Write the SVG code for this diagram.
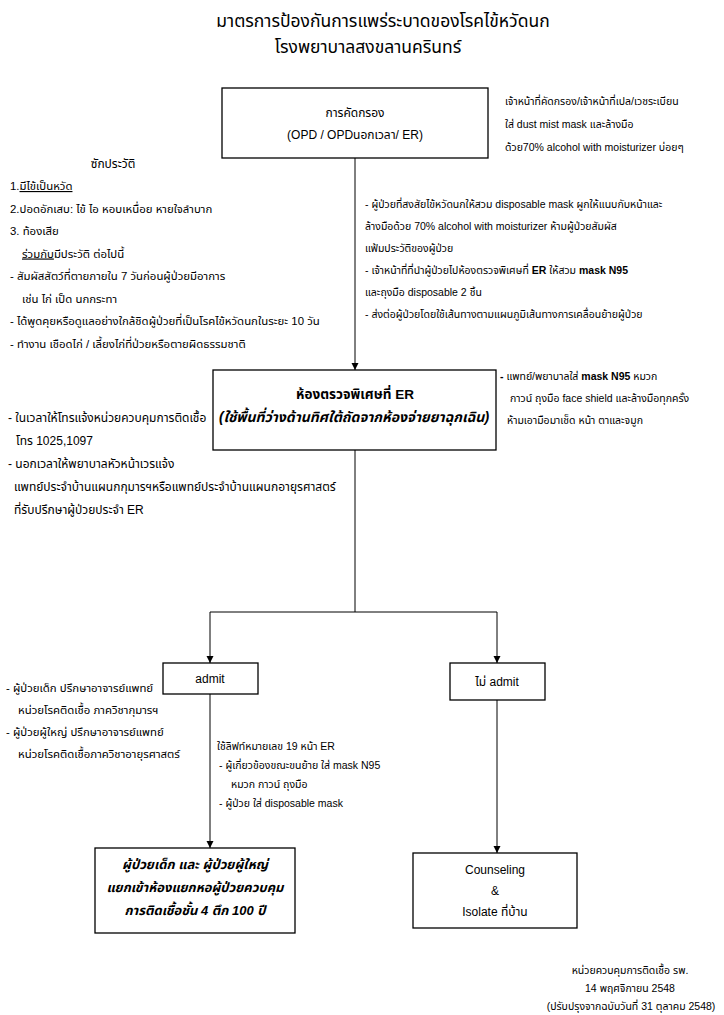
<svg xmlns="http://www.w3.org/2000/svg" width="724" height="1015" viewBox="0 0 724 1015">
<defs>
<style>
text{font-family:"Liberation Sans","Noto Sans Thai","Noto Sans",sans-serif;fill:#000;}
.t{font-size:17.5px;text-anchor:middle;}
.n{font-size:10.5px;}
.h{font-size:11.4px;}
.l{font-size:12px;}
.m{font-size:12px;text-anchor:middle;}
.b{font-size:13.5px;font-weight:bold;text-anchor:middle;}
.bi{font-size:14px;font-weight:bold;font-style:italic;text-anchor:middle;}
.bw{font-size:13px;font-weight:bold;font-style:italic;text-anchor:middle;}
.box{fill:#fff;stroke:#000;stroke-width:1.3;}
.ln{fill:none;stroke:#000;stroke-width:1;}
.u{text-decoration:underline;}
</style>
<marker id="ah" viewBox="0 0 10 10" refX="10" refY="5" markerWidth="7" markerHeight="8" markerUnits="userSpaceOnUse" orient="auto">
<path d="M0,0 L10,5 L0,10 z" fill="#000"/>
</marker>
</defs>
<rect width="724" height="1015" fill="#fff"/>

<g id="title">
<text class="t" x="383" y="27">มาตรการป้องกันการแพร่ระบาดของโรคไข้หวัดนก</text>
<text class="t" x="368" y="53">โรงพยาบาลสงขลานครินทร์</text>
</g>

<g id="connectors">
<line class="ln" x1="355" y1="158" x2="355" y2="370" marker-end="url(#ah)"/>
<polyline class="ln" points="355,450 355,612"/>
<polyline class="ln" points="210,612 497,612"/>
<line class="ln" x1="210" y1="612" x2="210" y2="663" marker-end="url(#ah)"/>
<line class="ln" x1="497" y1="612" x2="497" y2="663" marker-end="url(#ah)"/>
<line class="ln" x1="210" y1="694" x2="210" y2="848" marker-end="url(#ah)"/>
<line class="ln" x1="497" y1="700" x2="497" y2="853" marker-end="url(#ah)"/>
</g>

<g id="screening">
<rect class="box" x="222" y="88" width="266" height="70"/>
<text class="m" x="355" y="117">การคัดกรอง</text>
<text class="m" x="355" y="139">(OPD / OPDนอกเวลา/ ER)</text>
</g>

<g id="screening-note">
<text class="n" x="505" y="105">เจ้าหน้าที่คัดกรอง/เจ้าหน้าที่เปล/เวชระเบียน</text>
<text class="n" x="505" y="128">ใส่ dust mist mask และล้างมือ</text>
<text class="n" x="505" y="151">ด้วย70% alcohol with  moisturizer บ่อยๆ</text>
</g>

<g id="history">
<text class="m" x="113" y="168">ซักประวัติ</text>
<text class="h" x="10" y="190">1.<tspan class="u">มีไข้เป็นหวัด</tspan></text>
<text class="h" x="10" y="212.5">2.ปอดอักเสบ: ไข้ ไอ หอบเหนื่อย หายใจลำบาก</text>
<text class="h" x="10" y="235">3. ท้องเสีย</text>
<text class="h" x="22" y="257.5"><tspan class="u">ร่วมกับ</tspan>มีประวัติ ต่อไปนี้</text>
<text class="h" x="10" y="280">-  สัมผัสสัตว์ที่ตายภายใน 7 วันก่อนผู้ป่วยมีอาการ</text>
<text class="h" x="22" y="302.5">เช่น ไก่ เป็ด นกกระทา</text>
<text class="h" x="10" y="325">-  ได้พูดคุยหรือดูแลอย่างใกล้ชิดผู้ป่วยที่เป็นโรคไข้หวัดนกในระยะ 10 วัน</text>
<text class="h" x="10" y="347.5">-  ทำงาน เชือดไก่ / เลี้ยงไก่ที่ป่วยหรือตายผิดธรรมชาติ</text>
</g>

<g id="transfer-note">
<text class="n" x="365" y="208">- ผู้ป่วยที่สงสัยไข้หวัดนกให้สวม disposable mask ผูกให้แนบกับหน้าและ</text>
<text class="n" x="365" y="230">ล้างมือด้วย  70% alcohol with  moisturizer  ห้ามผู้ป่วยสัมผัส</text>
<text class="n" x="365" y="252">แฟ้มประวัติของผู้ป่วย</text>
<text class="n" x="365" y="274">- เจ้าหน้าที่ที่นำผู้ป่วยไปห้องตรวจพิเศษที่ <tspan font-weight="bold">ER</tspan> ให้สวม <tspan font-weight="bold">mask N95</tspan></text>
<text class="n" x="365" y="296">และถุงมือ  disposable 2 ชิ้น</text>
<text class="n" x="365" y="318">- ส่งต่อผู้ป่วยโดยใช้เส้นทางตามแผนภูมิเส้นทางการเคลื่อนย้ายผู้ป่วย</text>
</g>

<g id="er-room">
<rect class="box" x="213" y="370" width="283" height="80"/>
<text class="b" x="355" y="399">ห้องตรวจพิเศษที่ ER</text>
<text class="bi" x="354" y="422">(ใช้พื้นที่ว่างด้านทิศใต้ถัดจากห้องจ่ายยาฉุกเฉิน)</text>
</g>

<g id="er-staff-note">
<text class="n" x="500" y="380"><tspan font-weight="bold">- </tspan>แพทย์/พยาบาลใส่ <tspan font-weight="bold">mask N95</tspan> หมวก</text>
<text class="n" x="510" y="402" font-size="11">กาวน์  ถุงมือ face shield  และล้างมือทุกครั้ง</text>
<text class="n" x="507" y="424" font-size="11.5">ห้ามเอามือมาเช็ด หน้า  ตาและจมูก</text>
</g>

<g id="er-contact-note">
<text class="l" x="8" y="422">- ในเวลาให้โทรแจ้งหน่วยควบคุมการติดเชื้อ</text>
<text class="l" x="16" y="445">โทร 1025,1097</text>
<text class="l" x="8" y="468">- นอกเวลาให้พยาบาลหัวหน้าเวรแจ้ง</text>
<text class="l" x="14" y="491">แพทย์ประจำบ้านแผนกกุมารฯหรือแพทย์ประจำบ้านแผนกอายุรศาสตร์</text>
<text class="l" x="14" y="514">ที่รับปรึกษาผู้ป่วยประจำ ER</text>
</g>

<g id="admit">
<rect class="box" x="163" y="663" width="95" height="31"/>
<text class="m" x="210" y="683">admit</text>
</g>

<g id="not-admit">
<rect class="box" x="450" y="663" width="95" height="37"/>
<text class="m" x="497" y="686">ไม่ admit</text>
</g>

<g id="admit-consult-note">
<text class="h" x="6" y="692">- ผู้ป่วยเด็ก ปรึกษาอาจารย์แพทย์</text>
<text class="h" x="18" y="714">หน่วยโรคติดเชื้อ ภาควิชากุมารฯ</text>
<text class="h" x="6" y="736">- ผู้ป่วยผู้ใหญ่ ปรึกษาอาจารย์แพทย์</text>
<text class="h" x="18" y="758" font-size="12">หน่วยโรคติดเชื้อภาควิชาอายุรศาสตร์</text>
</g>

<g id="move-note">
<text class="n" x="217" y="750">ใช้ลิฟท์หมายเลข 19  หน้า ER</text>
<text class="n" x="219" y="769">-  ผู้เกี่ยวข้องขณะขนย้าย ใส่ mask  N95</text>
<text class="n" x="231" y="788">หมวก  กาวน์    ถุงมือ</text>
<text class="n" x="219" y="807">-  ผู้ป่วย ใส่ disposable mask</text>
</g>

<g id="isolation-ward">
<rect class="box" x="95" y="848" width="200" height="85"/>
<text class="bw" x="195" y="869">ผู้ป่วยเด็ก และ ผู้ป่วยผู้ใหญ่</text>
<text class="bw" x="195" y="892">แยกเข้าห้องแยกหอผู้ป่วยควบคุม</text>
<text class="bw" x="195" y="915">การติดเชื้อชั้น 4 ตึก 100 ปี</text>
</g>

<g id="home-isolation">
<rect class="box" x="413" y="853" width="164" height="75"/>
<text class="m" x="495" y="874">Counseling</text>
<text class="m" x="495" y="895">&amp;</text>
<text class="m" x="495" y="916">Isolate ที่บ้าน</text>
</g>

<g id="footer">
<text class="n" x="630" y="974" text-anchor="middle">หน่วยควบคุมการติดเชื้อ รพ.</text>
<text class="n" x="630" y="992" text-anchor="middle">14 พฤศจิกายน 2548</text>
<text class="n" x="631" y="1010" text-anchor="middle">(ปรับปรุงจากฉบับวันที่ 31 ตุลาคม 2548)</text>
</g>
</svg>
